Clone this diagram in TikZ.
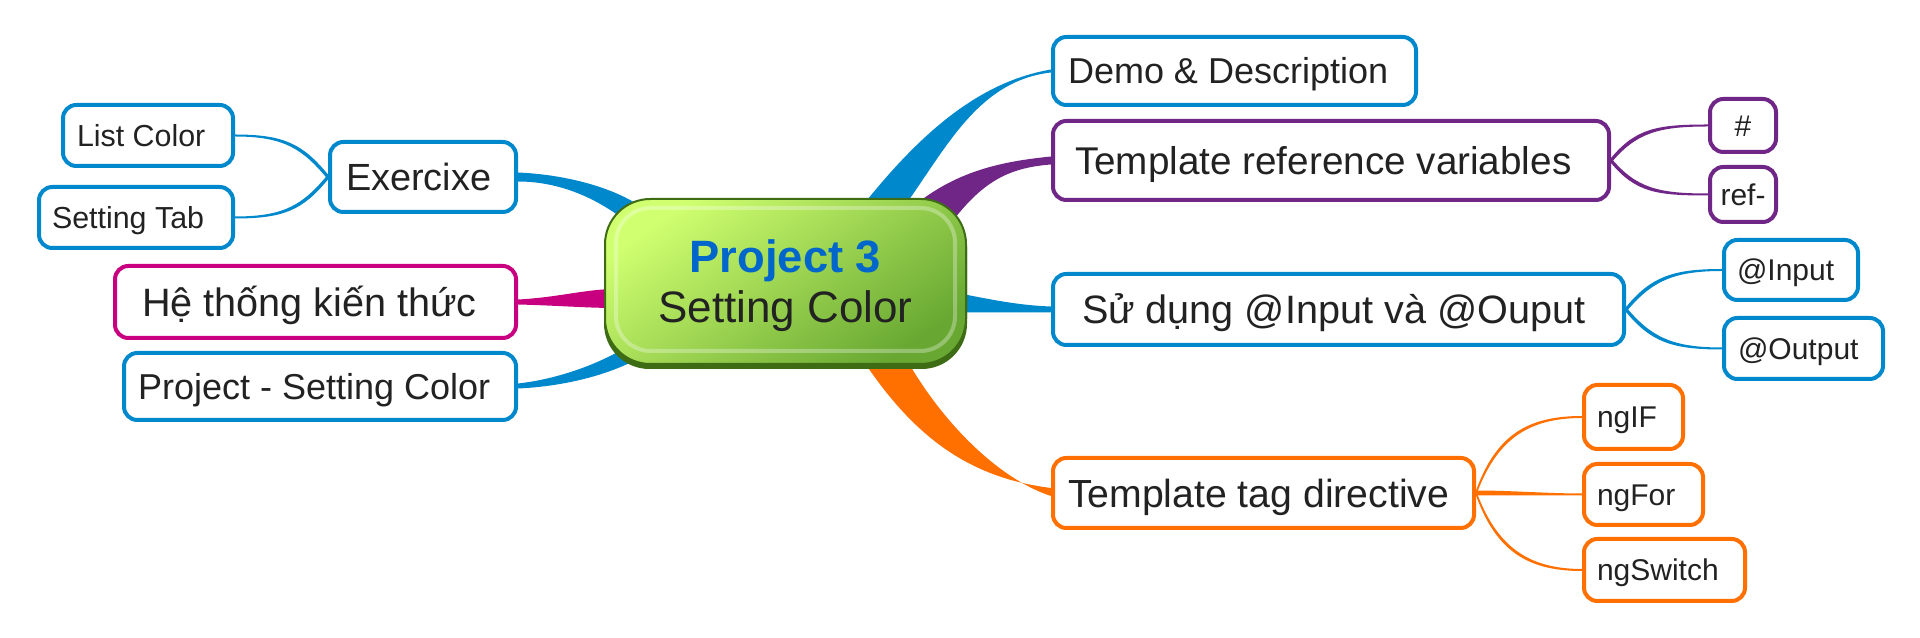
\documentclass[tikz,border=0pt]{standalone}
\usepackage{fontspec}
\setmainfont{Liberation Sans}
\usetikzlibrary{calc,backgrounds}
\definecolor{cblue}{RGB}{0,136,204}
\definecolor{cpurple}{RGB}{112,38,134}
\definecolor{cmag}{RGB}{200,0,128}
\definecolor{corange}{RGB}{255,112,0}
\definecolor{txt}{RGB}{34,34,34}
\definecolor{cproj}{RGB}{0,102,204}
\definecolor{gtop}{RGB}{208,255,112}
\definecolor{gbot}{RGB}{104,168,50}
\definecolor{gedge}{RGB}{62,108,20}
\newcommand\twig[5]{\fill[#1] ($(#2)+(0,2.5)$) .. controls +#4 and +#5 .. ($(#3)+(0,1)$) -- ($(#3)+(0,-1)$) .. controls +#5 and +#4 .. ($(#2)+(0,-2.5)$) -- cycle;}
\begin{document}
\begin{tikzpicture}[x=0.75pt,y=0.75pt,
  box/.style={draw=#1, line width=3pt, rounded corners=10pt, fill=white, text=txt, inner ysep=0pt},
  fs/.style={font=\fontsize{#1}{#1}\selectfont, text height={0.72*#1pt}, text depth=0pt},
  sz/.style n args={3}{minimum height={(#2-4)*0.75pt}, inner xsep={(#3-2)*0.75pt},
    execute at begin node={\hbox to \dimexpr 0.75pt*(#1-2*#3)\relax\bgroup},
    execute at end node={\hfil\egroup}},
  csz/.style 2 args={minimum width={(#1-4)*0.75pt}, minimum height={(#2-4)*0.75pt}, inner xsep=0pt},
  hub/.style={draw=gedge, line width=1.5pt, rounded corners=34pt, top color=gtop, bottom color=gbot, shading angle=35,
    minimum width=270.75pt, minimum height=123.75pt, inner sep=0pt, align=center, text=txt, text depth=0pt,
    font=\fontsize{33}{37.5}\selectfont}]
\useasboundingbox (0,0) rectangle (1920,638);
\begin{pgfonlayer}{background}
\fill[white] (0,0) rectangle (1920,638);
\end{pgfonlayer}

\node[hub] (c) at (785.5,356.5) {\textcolor{cproj}{\fontsize{34}{37.5}\selectfont\bfseries Project 3}\\Setting Color};
\node[box=cblue,fs=27,sz={367}{72}{17}] (demo) at (1234.5,567) {Demo \& Description};
\node[box=cpurple,fs=29,sz={560}{83}{24}] (trv) at (1331,477.5) {Template reference variables};
\node[box=cblue,fs=29.7,sz={575}{75}{31}] (sd) at (1338.5,328.5) {Sử dụng @Input và @Ouput};
\node[box=corange,fs=29.4,sz={425}{74}{17}] (ttd) at (1263.5,145) {Template tag directive};
\node[box=cpurple,fs=22.5,csz={70}{57}] (hash) at (1743,512.5) {\#};
\node[box=cpurple,fs=22.5,csz={70}{59}] (ref) at (1743,443.5) {ref-};
\node[box=cblue,fs=22.5,sz={138}{64}{15}] (inp) at (1791,368) {@Input};
\node[box=cblue,fs=22.5,sz={163}{65}{16}] (outp) at (1803.5,289.5) {@Output};
\node[box=corange,fs=22.5,sz={103}{68}{15}] (ngif) at (1633.5,221) {ngIF};
\node[box=corange,fs=22.5,sz={123}{65}{15}] (ngfor) at (1643.5,143.5) {ngFor};
\node[box=corange,fs=22.5,sz={165}{66}{15}] (ngsw) at (1664.5,68) {ngSwitch};
\node[box=cblue,fs=28.4,sz={190}{74}{18}] (ex) at (423,461) {Exercixe};
\node[box=cblue,fs=22.8,sz={174}{65}{16}] (lc) at (148,502.5) {List Color};
\node[box=cblue,fs=22.8,sz={198}{65}{15}] (st) at (136,420.5) {Setting Tab};
\node[box=cmag,fs=29.7,sz={405}{76}{29}] (he) at (315.5,336) {Hệ thống kiến thức};
\node[box=cblue,fs=27,sz={396}{71}{16}] (psc) at (320,251.5) {Project - Setting Color};

\draw[white, opacity=0.3, line width=3pt, rounded corners=26pt] ($(c.south west)+(12,14)$) rectangle ($(c.north east)+(-12,-10)$);

\begin{pgfonlayer}{background}
% main branches
\fill[cblue] ($(c.north)+(80,-4)$) .. controls +(58,72) and +(-70,-12) .. ($(demo.west)+(0,1.5)$) -- ($(demo.west)+(0,-1.5)$) .. controls +(-70,-8) and +(42,60) .. ($(c.north)+(122,-4)$) -- cycle;
\fill[cpurple] ($(c.north east)+(-47,-3)$) .. controls +(40,30) and +(-50,-5) .. ($(trv.west)+(0,4)$) -- ($(trv.west)+(0,-4)$) .. controls +(-40,-3) and +(30,38) .. ($(c.north east)+(-12,-20)$) -- cycle;
\fill[cblue] ($(c.east)+(-12,-11)$) .. controls +(40,-8) and +(-30,1) .. ($(sd.west)+(0,3)$) -- ($(sd.west)+(0,-3)$) .. controls +(-30,0) and +(30,0) .. ($(c.east)+(-12,-31)$) -- cycle;
\fill[corange] ($(c.south)+(78,4)$) .. controls +(52,-78) and +(-80,10) .. ($(ttd.west)+(0,5)$) -- ($(ttd.west)+(0,-3)$) .. controls +(-55,18) and +(33,-58) .. ($(c.south)+(122,4)$) -- cycle;
\fill[cblue] ($(ex.east)+(0,4.5)$) .. controls +(45,-2) and +(-30,20) .. ($(c.west)+(36,75.5)$) -- ($(c.west)+(28,55.5)$) .. controls +(-30,25) and +(45,0) .. ($(ex.east)+(0,-4.5)$) -- cycle;
\fill[cmag] ($(he.east)+(0,2.5)$) .. controls +(40,2) and +(-30,0) .. ($(c.west)+(12,-7.5)$) -- ($(c.west)+(12,-26.5)$) .. controls +(-30,0) and +(40,-1) .. ($(he.east)+(0,-2.5)$) -- cycle;
\fill[cblue] ($(psc.east)+(0,3)$) .. controls +(45,5) and +(-30,-22) .. ($(c.west)+(36,-56.5)$) -- ($(c.west)+(44,-71.5)$) .. controls +(-35,-22) and +(45,2) .. ($(psc.east)+(0,-2)$) -- cycle;
% sub branches
\twig{cpurple}{trv.east}{hash.west}{(25,30)}{(-50,0)}
\twig{cpurple}{trv.east}{ref.west}{(25,-30)}{(-50,0)}
\twig{cblue}{sd.east}{inp.west}{(25,30)}{(-50,0)}
\twig{cblue}{sd.east}{outp.west}{(25,-30)}{(-50,0)}
\twig{corange}{ttd.east}{ngif.west}{(20,55)}{(-55,0)}
\twig{corange}{ttd.east}{ngfor.west}{(35,0)}{(-35,0)}
\twig{corange}{ttd.east}{ngsw.west}{(20,-55)}{(-55,0)}
\twig{cblue}{ex.west}{lc.east}{(-25,30)}{(50,0)}
\twig{cblue}{ex.west}{st.east}{(-25,-30)}{(50,0)}
% hub shadow
\fill[gedge, rounded corners=34pt] ($(c.south west)+(0,-4)$) rectangle ($(c.north east)+(0,-4)$);
\end{pgfonlayer}
\end{tikzpicture}
\end{document}
